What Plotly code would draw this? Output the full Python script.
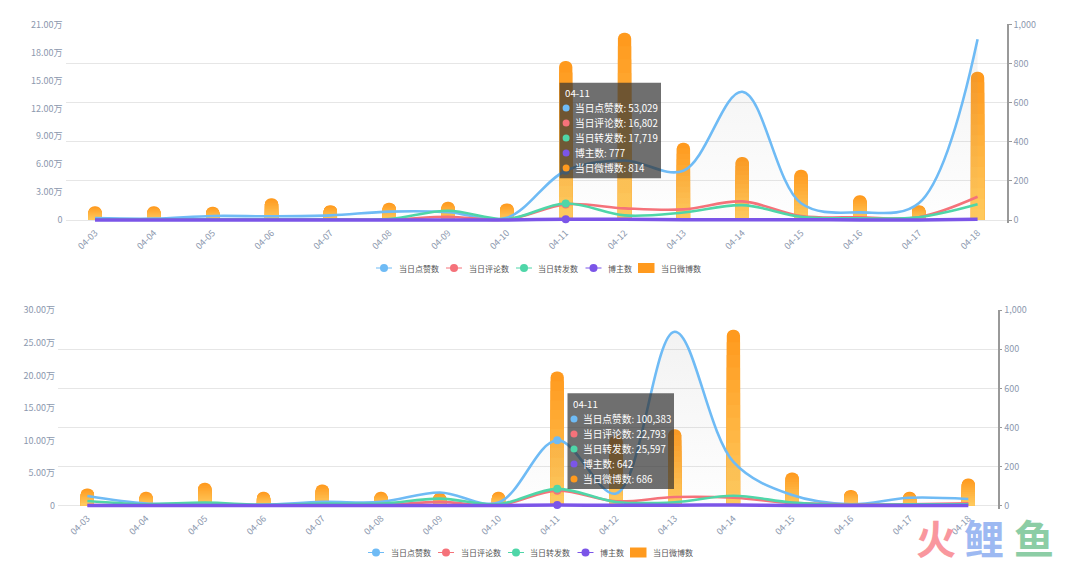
import plotly.graph_objects as go
import numpy as np

WIDTH = 1080
HEIGHT = 567

dates = ['04-03', '04-04', '04-05', '04-06', '04-07', '04-08', '04-09', '04-10',
         '04-11', '04-12', '04-13', '04-14', '04-15', '04-16', '04-17', '04-18']

# first panel
likes_1 = [2000, 1500, 4300, 4000, 5000, 9000, 8500, 2500, 53029, 64000, 53000, 138000, 18000, 8200, 18000, 194500]
comments_1 = [300, 300, 400, 400, 500, 500, 3500, 500, 16802, 12500, 11400, 20000, 4300, 2900, 3000, 25000]
reposts_1 = [500, 500, 500, 500, 500, 1000, 10000, 1000, 17719, 5000, 8000, 16000, 3500, 1800, 3000, 17000]
bloggers_1 = [60, 60, 58, 100, 70, 80, 85, 80, 777, 900, 380, 310, 250, 120, 70, 750]
posts_1 = [71, 71, 68, 112, 76, 88, 93, 85, 814, 959, 396, 323, 258, 127, 76, 760]

# second panel
likes_2 = [14500, 3000, 3000, 1000, 5500, 5500, 20000, 4500, 100383, 18400, 267000, 67000, 16000, 2000, 12000, 10000]
comments_2 = [500, 300, 500, 200, 500, 500, 5500, 500, 22793, 6500, 13000, 12000, 4000, 1500, 2000, 3500]
reposts_2 = [7000, 2000, 4500, 1000, 3000, 3000, 10500, 2000, 25597, 5500, 5000, 15000, 4500, 1000, 2000, 2000]
bloggers_2 = [80, 65, 110, 65, 100, 65, 60, 65, 642, 340, 370, 850, 160, 75, 65, 130]
posts_2 = [87, 70, 116, 70, 107, 70, 66, 70, 686, 359, 390, 900, 169, 80, 70, 138]

series_names = ['当日点赞数', '当日评论数', '当日转发数', '博主数', '当日微博数']
series_colors = ['#6FBBF5', '#F5727A', '#4FD6A8', '#7B55E8', '#FF9A1E']

left_ticks_1 = [0, 30000, 60000, 90000, 120000, 150000, 180000, 210000]
left_labels_1 = ['0', '3.00万', '6.00万', '9.00万', '12.00万', '15.00万', '18.00万', '21.00万']
left_ticks_2 = [0, 50000, 100000, 150000, 200000, 250000, 300000]
left_labels_2 = ['0', '5.00万', '10.00万', '15.00万', '20.00万', '25.00万', '30.00万']
right_ticks = [0, 200, 400, 600, 800, 1000]
right_labels = ['0', '200', '400', '600', '800', '1,000']

HOVER_INDEX = 8  # 04-11 is the date under the tooltip
FONT = 'Noto Sans CJK SC'
TICK_COLOR = '#8C98AE'
GRID_COLOR = '#E6E6E6'
GRADIENT_STEPS = 14
PANEL_HEIGHT = 196
HEADROOM = 1.004  # top gridline would be clipped at the exact end of the range
FOOT = 3  # px below zero, so the line along the zero is not cut


def _paper_x(px):
    return px / WIDTH


def _paper_y(px):
    return 1 - px / HEIGHT


def _range(top_value):
    _span = top_value * HEADROOM
    return [-_span * FOOT / PANEL_HEIGHT, _span]


def _line_traces(values, xaxis, yaxis):
    _traces = []
    for name, color, series in zip(series_names, series_colors, values):
        _trace = go.Scatter(
            x=dates,
            y=series,
            name=name,
            mode='lines+markers',
            line={'color': color, 'width': 3.5 if name == series_names[3] else 2.6, 'shape': 'spline', 'smoothing': 1},
            marker={'color': color, 'size': 8},
            selectedpoints=[HOVER_INDEX],
            selected={'marker': {'opacity': 1}},
            unselected={'marker': {'opacity': 0}},
            cliponaxis=False,
            xaxis=xaxis,
            yaxis=yaxis,
        )
        if name == series_names[0]:  # soft shadow under the main curve
            _trace.update(
                fill='tozeroy',
                fillgradient={
                    'type': 'vertical',
                    'colorscale': [[0, 'rgba(150,150,150,0.01)'], [1, 'rgba(150,150,150,0.12)']],
                },
            )
        _traces.append(_trace)
    return _traces


def _bar_traces(values, xaxis, yaxis):
    # no gradient on bars, so shorter and lighter bars are stacked over the full one
    _traces = []
    _top = np.array([255, 154, 30])
    _bottom = np.array([255, 205, 98])
    for step in range(GRADIENT_STEPS):
        _share = 1 - step / GRADIENT_STEPS
        _rgb = _bottom + (_top - _bottom) * _share
        _traces.append(go.Bar(
            x=dates,
            y=[value * _share for value in values],
            name=series_names[4],
            width=0.226,
            marker={
                'color': f'rgb({_rgb[0]:.0f},{_rgb[1]:.0f},{_rgb[2]:.0f})',
                'cornerradius': 6.5,
                'line': {'width': 0},
            },
            xaxis=xaxis,
            yaxis=yaxis,
        ))
    return _traces


def _tooltip(left, top, right, bottom, title_y, row_step, values):
    _shapes = [{
        'type': 'rect', 'xref': 'paper', 'yref': 'paper', 'layer': 'above',
        'x0': _paper_x(left), 'x1': _paper_x(right),
        'y0': _paper_y(top), 'y1': _paper_y(bottom),
        'fillcolor': 'rgba(50,50,50,0.7)', 'line': {'width': 0},
    }]
    _annotations = [{
        'x': _paper_x(left + 3), 'y': _paper_y(title_y), 'xref': 'paper', 'yref': 'paper',
        'text': dates[HOVER_INDEX], 'showarrow': False, 'xanchor': 'left', 'yanchor': 'middle',
        'font': {'family': FONT, 'size': 9.7, 'color': '#FFFFFF'},
    }]
    for i, (name, color, value) in enumerate(zip(series_names, series_colors, values)):
        _y = title_y + row_step * (i + 1)
        _shapes.append({
            'type': 'circle', 'xref': 'paper', 'yref': 'paper', 'layer': 'above',
            'x0': _paper_x(left + 3), 'x1': _paper_x(left + 10),
            'y0': _paper_y(_y - 3.5), 'y1': _paper_y(_y + 3.5),
            'fillcolor': color, 'line': {'width': 0},
        })
        _annotations.append({
            'x': _paper_x(left + 13), 'y': _paper_y(_y), 'xref': 'paper', 'yref': 'paper',
            'text': f'{name}: {value:,}', 'showarrow': False, 'xanchor': 'left', 'yanchor': 'middle',
            'font': {'family': FONT, 'size': 9.7, 'color': '#FFFFFF'},
        })
    return _shapes, _annotations


def _legend_marks(shift, y):
    # plotly's own legend keys are too wide here, drawn by hand
    _shapes = []
    _annotations = []
    _centers = [384, 454, 524, 593.5]
    for center, color in zip(_centers, series_colors):
        _shapes.append({
            'type': 'line', 'xref': 'paper', 'yref': 'paper',
            'x0': _paper_x(center - 8 + shift), 'x1': _paper_x(center + 8 + shift),
            'y0': _paper_y(y), 'y1': _paper_y(y),
            'line': {'color': color, 'width': 1},
        })
        _shapes.append({
            'type': 'circle', 'xref': 'paper', 'yref': 'paper',
            'x0': _paper_x(center - 4 + shift), 'x1': _paper_x(center + 4 + shift),
            'y0': _paper_y(y - 4), 'y1': _paper_y(y + 4),
            'fillcolor': color, 'line': {'width': 0},
        })
    _shapes.append({
        'type': 'rect', 'xref': 'paper', 'yref': 'paper',
        'x0': _paper_x(638 + shift), 'x1': _paper_x(654.5 + shift),
        'y0': _paper_y(y - 5), 'y1': _paper_y(y + 5),
        'fillcolor': series_colors[4], 'line': {'width': 0},
    })
    for name, start in zip(series_names, [397, 467, 536, 606, 659]):
        _annotations.append({
            'x': _paper_x(start + shift), 'y': _paper_y(y), 'xref': 'paper', 'yref': 'paper',
            'text': name, 'showarrow': False, 'xanchor': 'left', 'yanchor': 'middle',
            'font': {'family': FONT, 'size': 8, 'color': '#555555'},
        })
    return _shapes, _annotations


def _x_axis(left, right, anchor):
    return {
        'domain': [_paper_x(left), _paper_x(right)],
        'anchor': anchor,
        'type': 'category',
        'categoryorder': 'array',
        'categoryarray': dates,
        'range': [-0.5, 15.5],
        'tickangle': -45,
        'ticks': '',
        'ticklabelstandoff': 2,
        'showgrid': False,
        'showline': False,
        'tickfont': {'family': FONT, 'size': 9, 'color': TICK_COLOR},
    }


def _right_axis(top, bottom, anchor):
    return {
        'domain': [_paper_y(bottom + FOOT), _paper_y(top)],
        'anchor': anchor,
        'side': 'right',
        'range': _range(right_ticks[-1]),
        'tickvals': right_ticks,
        'ticktext': right_labels,
        'ticks': 'outside',
        'ticklen': 3,
        'tickcolor': '#999999',
        'showline': True,
        'linecolor': '#999999',
        'linewidth': 1.5,
        'showgrid': True,
        'gridcolor': GRID_COLOR,
        'gridwidth': 1,
        'zeroline': False,
        'tickfont': {'family': FONT, 'size': 9, 'color': TICK_COLOR},
    }


def _left_axis(overlaying, anchor, ticks, labels):
    return {
        'overlaying': overlaying,
        'anchor': anchor,
        'side': 'left',
        'range': _range(ticks[-1]),
        'tickvals': ticks,
        'ticktext': labels,
        'ticks': '',
        'ticklabelstandoff': 2,
        'showline': False,
        'showgrid': False,
        'zeroline': False,
        'tickfont': {'family': FONT, 'size': 9, 'color': TICK_COLOR},
    }


_series_1 = [likes_1, comments_1, reposts_1, bloggers_1]
_series_2 = [likes_2, comments_2, reposts_2, bloggers_2]

_shapes_1, _annotations_1 = _tooltip(559.6, 82.7, 661, 178.3, 93, 15,
                                     [likes_1[HOVER_INDEX], comments_1[HOVER_INDEX], reposts_1[HOVER_INDEX],
                                      bloggers_1[HOVER_INDEX], posts_1[HOVER_INDEX]])
_shapes_2, _annotations_2 = _tooltip(567.5, 393.3, 674, 489, 404, 15,
                                     [likes_2[HOVER_INDEX], comments_2[HOVER_INDEX], reposts_2[HOVER_INDEX],
                                      bloggers_2[HOVER_INDEX], posts_2[HOVER_INDEX]])
_legend_shapes_1, _legend_annotations_1 = _legend_marks(0, 268)
_legend_shapes_2, _legend_annotations_2 = _legend_marks(-8, 552.5)

# watermark in the corner
_watermark = [
    {'x': _paper_x(x), 'y': _paper_y(537), 'xref': 'paper', 'yref': 'paper', 'text': text,
     'showarrow': False, 'xanchor': 'center', 'yanchor': 'middle',
     'font': {'family': FONT, 'size': 40, 'color': color, 'weight': 700}}
    for x, text, color in [(936, '火', '#F9979E'), (984, '鲤', '#9DB9F2'), (1034, '鱼', '#8CCDA5')]
]

fig = go.Figure(
    data=_bar_traces(posts_1, 'x', 'y')
    + _line_traces(_series_1, 'x', 'y2')
    + _bar_traces(posts_2, 'x2', 'y3')
    + _line_traces(_series_2, 'x2', 'y4'),
    layout=go.Layout(
        width=WIDTH,
        height=HEIGHT,
        margin={'l': 0, 'r': 0, 't': 0, 'b': 0, 'pad': 0, 'autoexpand': False},
        paper_bgcolor='#FFFFFF',
        plot_bgcolor='#FFFFFF',
        barmode='overlay',
        hovermode=False,
        showlegend=False,
        xaxis=_x_axis(65.6, 1007, 'y'),
        yaxis=_right_axis(24, 220, 'x'),
        yaxis2=_left_axis('y', 'x', left_ticks_1, left_labels_1),
        xaxis2=_x_axis(58, 997.7, 'y3'),
        yaxis3=_right_axis(309.5, 505.5, 'x2'),
        yaxis4=_left_axis('y3', 'x2', left_ticks_2, left_labels_2),
        shapes=_shapes_1 + _shapes_2 + _legend_shapes_1 + _legend_shapes_2,
        annotations=_annotations_1 + _annotations_2 + _legend_annotations_1 + _legend_annotations_2 + _watermark,
    ),
)

fig.write_html("out.html", config={'displayModeBar': False},
               post_script="document.body.style.margin = '0';")  # page margin would shift the chart
